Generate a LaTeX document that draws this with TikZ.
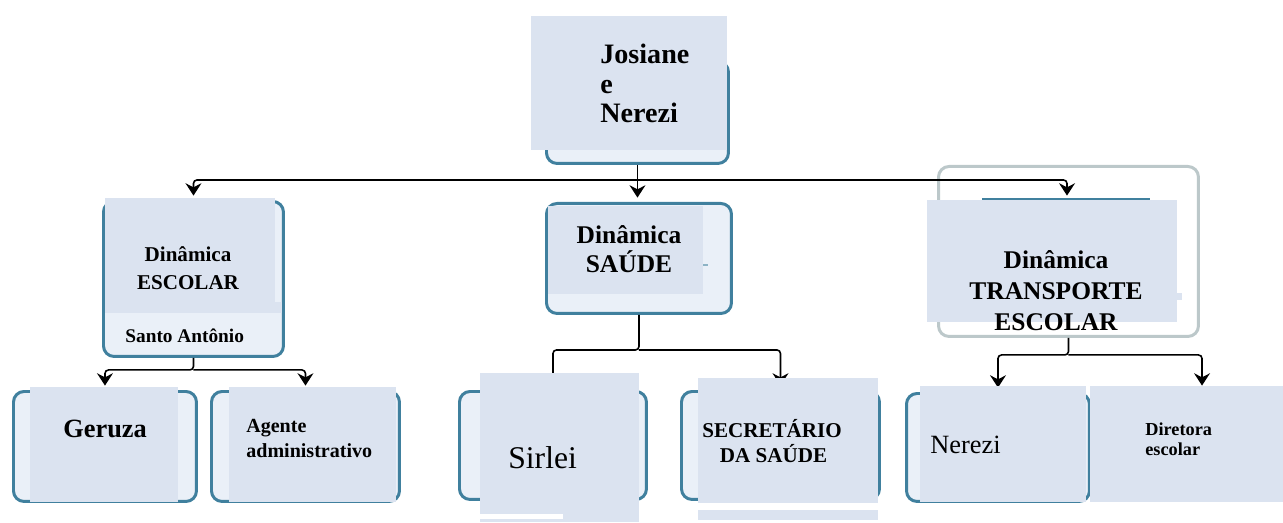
\documentclass[tikz,border=0pt]{standalone}
\usepackage{fontspec}
\setmainfont{Liberation Serif}
\usetikzlibrary{arrows.meta}
\definecolor{caixa}{RGB}{219,227,240}
\definecolor{bordaazul}{RGB}{64,128,158}
\definecolor{bordafundo}{RGB}{234,240,248}
\definecolor{bordacinza}{RGB}{188,200,202}
\tikzset{
    borda/.style={draw=bordaazul, line width=1.7pt, rounded corners=6pt, fill=bordafundo, inner sep=0pt, anchor=north west},
    fundo/.style={fill=caixa, inner sep=0pt, anchor=north west},
    liga/.style={-{Stealth[length=7pt,width=9pt]}, line width=0.9pt, rounded corners=2pt, shorten >=2.5pt},
    texto/.style={inner sep=0pt, font=\bfseries, align=left}
}

\begin{document}
\begin{tikzpicture}[x=0.02cm, y=-0.02cm]
    \useasboundingbox (0,0) rectangle (1283,523);
    % caixas com borda
    \node[borda, minimum width=3.64cm, minimum height=2.04cm] (topo) at (545,60) {};
    \node[borda, minimum width=3.6cm, minimum height=3.1cm] (escolar) at (102,200) {};
    \node[borda, minimum width=3.7cm, minimum height=2.2cm] (saude) at (545,202) {};
    \node[borda, draw=bordacinza, fill=white, minimum width=5.2cm, minimum height=3.4cm] (transp) at (937,165) {};
    \node[borda, minimum width=3.66cm, minimum height=2.2cm] (geruza) at (12,390) {};
    \node[borda, minimum width=3.76cm, minimum height=2.2cm] (agente) at (210,390) {};
    \node[borda, minimum width=3.74cm, minimum height=2.16cm] (sirlei) at (458,390) {};
    \node[borda, minimum width=3.96cm, minimum height=2.16cm] (secretario) at (680,390) {};
    \node[borda, minimum width=3.66cm, minimum height=2.16cm] (nerezi) at (905,392) {};

    % ligacoes
    \path (topo.south) ++(0,15) coordinate (barra);
    \coordinate (transpin) at (1067,200);
    \coordinate (diretorain) at (1202,390);
    \draw[liga] (topo.south) -- (topo.south |- saude.north);
    \draw[liga] (barra) -| (escolar.north);
    \draw[liga] (barra) -| (transpin);
    \path (escolar.south) ++(0,12) coordinate (escolarbarra);
    \draw[liga] (escolar.south) -- (escolarbarra) -| (geruza.north);
    \draw[liga] (escolarbarra) -| (agente.north);
    \path (saude.south) ++(0,35) coordinate (saudebarra);
    \draw[liga] (saude.south) -- (saudebarra) -| (sirlei.north);
    \draw[liga] (saudebarra) -| (secretario.north);
    \path (transp.south) ++(0,17) coordinate (transpbarra);
    \draw[liga] (transp.south) -- (transpbarra) -| (nerezi.north);
    \draw[liga] (transpbarra) -| (diretorain);

    % fundos
    \node[fundo, minimum width=3.92cm, minimum height=2.68cm] (topofundo) at (531,16) {};
    \node[fundo, minimum width=3.4cm, minimum height=2.3cm] (escolarfundo) at (105,198) {};
    \fill[caixa] (275,302) rectangle (282,313);
    \node[fundo, minimum width=3.1cm, minimum height=1.76cm] (saudefundo) at (548,206) {};
    \draw[bordaazul!60, line width=1pt] (703,265) -- (708,265);
    \node[fundo, minimum width=5cm, minimum height=2.44cm] (transpfundo) at (927,200) {};
    \fill[caixa] (1177,293) rectangle (1182,300);
    \draw[bordaazul, line width=1pt] (982,199) -- (1150,199);
    \node[fundo, minimum width=2.96cm, minimum height=2.3cm] (geruzafundo) at (30,387) {};
    \node[fundo, minimum width=3.34cm, minimum height=2.3cm] (agentefundo) at (229,387) {};
    \node[fundo, minimum width=3.18cm, minimum height=2.98cm] (sirleifundo) at (480,373) {};
    \fill[white] (480,514) rectangle (563,519);
    \node[fundo, minimum width=3.6cm, minimum height=2.5cm] (secretariofundo) at (698,378) {};
    \fill[caixa] (698,510) rectangle (878,520);
    \node[fundo, minimum width=3.32cm, minimum height=2.32cm] (nerezifundo) at (920,386) {};
    \node[fundo, minimum width=3.86cm, minimum height=2.32cm] (diretorafundo) at (1090,386) {};

    % textos (base = linha de base da ultima linha)
    \node[texto, font=\bfseries\fontsize{16}{17}\selectfont, anchor=base west] (nomes) at (600,123) {Josiane\\e\\Nerezi};
    \node[texto, align=center, font=\bfseries\fontsize{12}{16}\selectfont, anchor=base] (escolartxt) at (188,290) {Dinâmica\\ESCOLAR};
    \node[texto, font=\bfseries\fontsize{11}{13}\selectfont, anchor=base west] (santo) at (125,342) {Santo Antônio};
    \node[texto, align=center, font=\bfseries\fontsize{14.5}{17}\selectfont, anchor=base] (saudetxt) at (629,273) {Dinâmica\\SAÚDE};
    \node[texto, align=center, font=\bfseries\fontsize{14.5}{17.5}\selectfont, anchor=base] (transptxt) at (1056,330) {Dinâmica\\TRANSPORTE\\ESCOLAR};
    \node[texto, font=\bfseries\fontsize{15}{17}\selectfont, anchor=base west] (geruzatxt) at (63,437) {Geruza};
    \node[texto, font=\bfseries\fontsize{11.4}{14}\selectfont, anchor=base west] (agentetxt) at (246,457) {Agente\\administrativo};
    \node[texto, font=\fontsize{18}{20}\selectfont, anchor=base west] (sirleitxt) at (508,468) {Sirlei};
    \node[texto, font=\bfseries\fontsize{12}{14}\selectfont, anchor=base west] (secretariotxt) at (702,462) {SECRETÁRIO\\\hspace*{10pt}DA SAÚDE};
    \node[texto, font=\fontsize{15}{17}\selectfont, anchor=base west] (nerezitxt) at (930,453) {Nerezi};
    \node[texto, font=\bfseries\fontsize{10.4}{11.3}\selectfont, anchor=base west] (diretoratxt) at (1145,455) {Diretora\\escolar};
\end{tikzpicture}
\end{document}
